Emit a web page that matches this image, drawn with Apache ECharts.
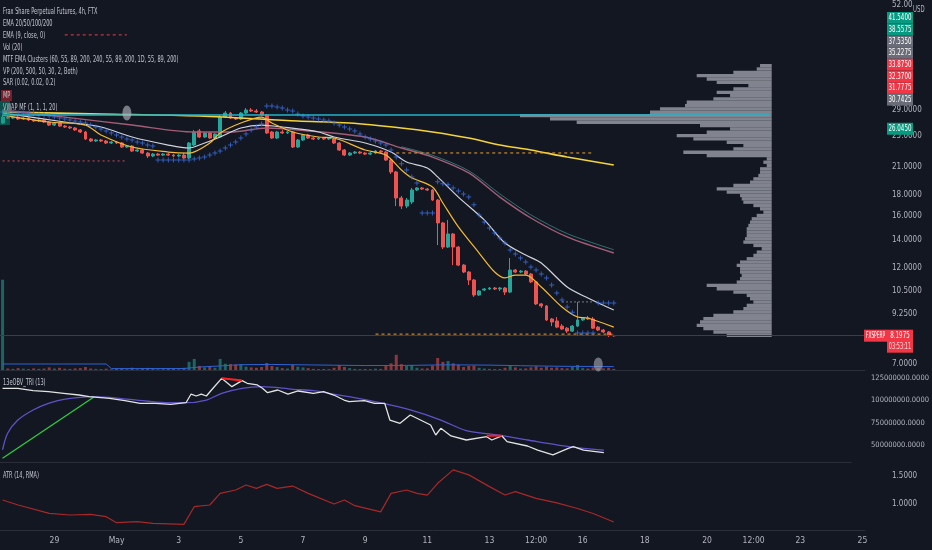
<!DOCTYPE html>
<html><head><meta charset="utf-8">
<script src="https://cdn.jsdelivr.net/npm/echarts@6/dist/echarts.min.js"></script>
<style>html,body{margin:0;padding:0;background:#131722;}#c{width:932px;height:550px;}</style>
</head><body><div id="c"></div><script>
// ---------- DATA ----------
const candles = [ // [open, close, low, high]
[26.89,27.80,26.74,28.13],[27.80,27.65,27.50,27.96],[27.65,27.80,27.50,27.96],[27.80,27.50,27.35,27.96],[27.50,27.65,27.35,27.80],
[27.65,27.35,27.20,27.80],[27.35,27.20,27.05,27.50],[27.20,27.35,27.05,27.50],[27.35,27.05,26.89,27.50],[27.05,26.59,26.44,27.20],
[26.59,26.89,26.44,27.05],[26.89,26.44,26.30,27.05],[26.44,26.30,26.16,26.59],[26.30,26.16,26.01,26.44],[26.16,25.87,25.73,26.30],
[25.87,25.58,25.44,26.01],[25.58,24.60,24.46,25.73],[24.60,24.32,24.19,24.73],[24.32,24.46,24.19,24.60],[24.46,24.32,24.19,24.60],
[24.32,24.05,23.92,24.46],[24.05,24.19,23.92,24.32],[24.19,24.05,23.92,24.32],[24.05,23.52,23.39,24.19],[23.52,23.65,23.39,23.78],
[23.65,23.00,22.87,23.78],[23.00,23.13,22.87,23.26],[23.13,22.74,22.61,23.26],[22.74,22.37,22.12,22.87],[22.37,22.61,22.24,22.74],
[22.61,22.48,22.37,22.74],[22.48,22.61,22.37,22.74],[22.61,22.48,22.37,22.74],[22.48,22.37,22.24,22.61],[22.37,22.48,22.24,22.61],
[22.48,22.12,21.99,22.74],[22.12,24.05,21.99,24.19],[23.78,25.58,23.65,25.87],[25.73,24.87,24.73,26.01],[24.87,25.44,24.73,25.58],
[25.44,24.73,24.60,25.58],[24.73,25.30,24.60,25.44],[24.87,27.80,24.73,28.13],[27.80,28.44,27.65,28.76],[28.44,27.65,27.50,28.60],
[27.65,27.50,27.35,27.80],[27.50,28.44,27.35,28.60],[28.44,28.92,28.28,29.24],[28.92,28.76,28.60,29.24],[28.76,28.60,28.44,29.08],
[28.60,28.12,27.96,28.76],[28.12,25.44,25.30,28.28],[25.58,24.73,24.60,25.73],[24.73,25.58,24.60,25.73],[25.58,25.44,25.30,25.87],
[25.44,25.58,25.30,25.73],[25.58,23.52,23.39,25.73],[23.52,24.46,23.39,24.60],[24.46,25.16,24.32,25.30],[25.16,24.73,24.60,25.30],
[24.73,24.60,24.46,24.87],[24.60,24.73,24.46,24.87],[24.73,24.60,24.46,24.87],[24.60,24.73,24.46,24.87],[24.60,24.05,23.92,24.73],
[24.05,23.13,23.00,24.19],[23.13,22.49,22.36,23.26],[22.49,22.74,22.36,22.87],[22.74,22.87,22.61,23.00],[22.87,22.74,22.61,23.00],
[22.74,22.61,22.49,22.87],[22.61,22.74,22.49,22.87],[22.74,23.00,22.61,23.13],[23.00,22.87,22.74,23.13],[22.87,21.87,21.75,23.00],
[21.87,20.46,20.23,21.99],[20.46,17.69,16.91,20.58],[17.69,16.91,16.63,17.89],[16.91,17.49,16.72,17.69],[17.30,18.50,17.10,18.71],
[18.50,18.71,18.40,18.81],[18.71,18.60,18.50,18.81],[18.60,18.50,18.40,18.71],[18.50,17.49,17.40,18.60],[17.49,15.39,13.60,17.59],
[15.39,13.45,13.30,15.48],[13.45,14.47,13.38,15.65],[14.47,13.45,12.16,14.55],[13.45,12.16,12.09,13.52],[12.16,11.70,11.63,12.23],
[11.70,11.19,10.88,11.76],[11.19,10.29,10.18,11.25],[10.29,10.52,10.24,10.58],[10.58,10.64,10.52,10.70],[10.64,10.70,10.58,10.76],
[10.70,10.64,10.58,10.76],[10.64,10.70,10.52,10.76],[10.70,10.46,10.29,10.76],[10.46,11.83,10.40,12.65],[11.83,11.70,11.63,11.90],
[11.70,11.76,11.63,11.83],[11.76,11.57,11.50,11.83],[11.57,11.07,11.00,11.63],[11.07,9.79,9.73,11.13],[9.79,9.68,9.57,9.84],
[9.68,8.95,8.90,9.73],[9.00,8.85,8.65,9.05],[8.90,8.60,8.55,9.10],[8.65,8.51,8.46,8.75],[8.55,8.41,8.32,8.60],
[8.41,8.65,8.37,8.70],[8.65,8.95,8.60,9.90],[8.95,9.05,8.90,9.10],[9.05,9.00,8.95,9.15],[9.00,8.55,8.51,9.10],
[8.60,8.46,8.41,8.65],[8.46,8.37,8.32,8.51],[8.37,8.20,8.14,8.41],[8.20,8.1975,8.15,8.24]
];
const volumes = [1220,
20,15,25,18,12,22,16,20,
35,20,30,18,15,22,25,40,20,15,
12,18,10,14,25,12,30,10,20,28,
15,10,12,14,16,10,30,110,150,55,
35,55,30,150,85,80,75,80,45,35,
30,40,95,55,40,25,20,68,45,35,
25,15,12,14,12,30,68,40,25,15,
12,14,12,18,15,60,90,205,80,55,
68,30,20,22,60,162,110,122,90,70,
40,55,60,30,20,15,12,14,30,68,
35,20,22,35,50,30,45,30,35,25,
22,40,68,25,20,35,25,22,30,15];
const volMA = [[0,81],[20,81],[21,19],[35,20],[38,40],[42,55],[46,72],[52,75],[60,68],[70,60],[78,62],[86,70],[94,66],[100,58],[108,50],[118,46]];
const sar = [28.60,28.60,28.44,28.44,28.44,28.28,28.28,28.12,28.12,27.96,
27.80,27.65,27.50,27.35,27.20,27.05,26.89,26.59,26.30,26.01,
25.73,25.44,25.16,24.87,24.60,24.46,24.19,24.05,23.78,23.65,
21.87,21.87,21.87,21.87,21.87,21.87,21.87,21.99,22.12,22.24,
22.49,22.74,23.00,23.39,23.78,24.19,24.73,25.30,25.87,26.30,
26.74,29.58,29.58,29.41,29.25,28.92,28.76,28.28,27.96,27.80,
27.65,27.50,27.35,27.20,26.89,26.59,26.30,26.01,25.73,25.30,
24.87,24.60,24.32,24.05,23.78,23.13,22.24,21.41,20.69,19.88,
19.25,16.26,16.26,16.26,19.36,19.15,19.05,18.71,18.40,18.09,
17.78,17.03,16.08,15.48,14.96,14.55,14.15,13.76,13.23,12.94,
12.65,12.37,12.03,11.83,11.57,11.32,10.88,10.40,10.01,9.62,
9.35,8.32,8.32,8.32,8.32,9.84,9.84,9.84,9.84];
const ema200 = [[0,28.60],[19,28.28],[38,27.96],[57,27.20],[67,26.89],[77,26.16],[83,25.58],[90,24.73],[96,23.78],[102,23.13],[109,22.24],[118,21.28]];
const ema100 = [[0,28.92],[12,27.80],[25,26.59],[37,25.58],[44,25.58],[51,26.16],[57,25.87],[70,24.87],[77,23.39],[83,22.24],[90,20.35],[96,17.78],[102,15.82],[109,14.23],[118,13.01]];
const mtfCluster = [[77,23.55],[83,22.45],[90,20.60],[96,18.10],[102,16.10],[109,14.50],[118,13.25]];
const ema50 = [[0,28.44],[12,27.05],[19,26.30],[25,24.87],[32,23.78],[36,23.39],[38,23.78],[42,24.87],[46,26.16],[50,26.59],[54,26.30],[61,25.58],[64,24.87],[70,24.05],[75,22.87],[78,21.63],[82,20.92],[84,19.90],[88,17.78],[93,15.65],[97,13.76],[101,12.86],[104,12.30],[109,10.76],[113,10.12],[118,9.46]];
const ema20 = [[0,28.12],[9,27.05],[16,26.59],[19,25.16],[25,23.52],[32,22.87],[36,22.74],[40,24.05],[42,25.44],[46,26.89],[50,27.80],[52,26.89],[56,25.58],[61,24.87],[64,24.73],[70,23.13],[74,22.49],[77,20.69],[79,19.80],[83,18.81],[85,17.20],[88,15.05],[92,13.01],[95,11.70],[97,11.32],[99,11.50],[101,11.50],[104,10.76],[108,9.62],[111,9.10],[113,9.05],[118,8.60]];
const pocLine = [[0,28.12],[148,28.12]];
const redDash1 = [[12,44.0],[24,44.0]];
const redDash2 = [[0,21.76],[24,21.76]];
const orangeDash1 = [[76,22.75],[114,22.75]];
const orangeDash2 = [[72,8.27],[118,8.27]];
const greyDash = [[108,9.90],[114,9.90]];
const markerOval = [[24,28.44]];
const volOval = [[115,75]];
const lastPrice = 8.1975;
const vpRows = [35,45,115,225,195,165,70,115,165,125,175,255,260,335,365,755,665,585,215,125,195,285,235,135,85,115,265,195,15,25,15,35,35,40,55,65,115,165,135,95,90,85,55,35,25,45,60,65,70,75,75,75,80,85,55,30,45,55,75,95,105,95,95,90,95,105,195,165,115,75,65,55,75,85,115,175,205,215,225,205,175,135];
const obv = [[0,113.5],[3,113.5],[6,110.9],[9,109.7],[12,107.9],[15,106.0],[17,104.1],[21,102.3],[24,99.7],[27,96.7],[30,96.7],[33,95.6],[36,97.4],[37,107.1],[38,104.9],[39,107.1],[40,104.9],[41,111.6],[43,124.6],[45,115.3],[47,122.0],[48,119.1],[50,117.2],[51,113.5],[52,108.6],[54,111.6],[56,107.1],[58,110.5],[61,107.9],[63,109.7],[65,106.0],[67,100.4],[68,98.6],[71,99.7],[73,96.7],[75,96.7],[76,78.1],[78,74.4],[80,83.7],[82,78.1],[84,72.5],[85,61.4],[86,68.8],[88,60.3],[91,55.8],[95,59.5],[96,55.8],[98,60.3],[99,54.0],[103,49.1],[105,44.6],[108,39.1],[111,46.5],[112,48.3],[114,44.6],[118,41.6]];
const obvSignal = [[0,44.9],[1,63.3],[3,78.1],[6,89.3],[9,96.7],[12,101.2],[18,104.1],[25,101.2],[32,97.4],[36,97.4],[40,100.4],[43,107.9],[47,113.5],[51,115.3],[57,112.4],[61,110.9],[64,107.9],[68,104.1],[74,97.4],[80,89.3],[86,78.1],[91,66.2],[97,61.4],[103,55.8],[109,50.2],[114,46.5],[118,44.6]];
const obvTrend = [[0,35.4],[18,104.1]];
const obvRed1 = [[43,124.8],[47,122.2]];
const obvRed2 = [[95,60.6],[98,60.6]];
const atr = [[0,1.071],[3,0.982],[9,0.833],[13,0.804],[17,0.815],[20,0.774],[22,0.666],[26,0.684],[29,0.655],[35,0.637],[37,0.952],[40,0.982],[42,1.19],[45,1.25],[47,1.34],[49,1.28],[51,1.35],[53,1.28],[56,1.32],[59,1.19],[64,1.0],[66,1.071],[68,0.97],[73,0.86],[75,1.19],[78,1.25],[80,1.19],[82,1.16],[84,1.37],[87,1.61],[90,1.52],[94,1.31],[97,1.16],[99,1.22],[103,1.10],[107,1.02],[111,0.92],[114,0.83],[118,0.68]];
const priceTicks = [7, 9.25, 10.5, 12, 14, 16, 18, 21, 25, 29, 52];
const obvTicks = [50, 75, 100, 125];
const atrTicks = [1.0, 1.5];
const xTicks = [[10,'29'],[22,'May'],[34,'3'],[46,'5'],[58,'7'],[70,'9'],[82,'11'],[94,'13'],[103,'12:00'],[112,'16'],[124,'18'],[136,'20'],[145,'12:00'],[154,'23'],[166,'25']];
const legendLines = ['Frax Share Perpetual Futures, 4h, FTX','EMA 20/50/100/200','EMA (9, close, 0)','Vol (20)','MTF EMA Clusters (60, 55, 89, 200, 240, 55, 89, 200, 1D, 55, 89, 200)','VP (200, 500, 50, 30, 2, Both)','SAR (0.02, 0.02, 0.2)','MP','VWAP MF (1, 1, 1, 20)'];
const sideBoxes = [['41.5400','#089981'],['38.5575','#089981'],['37.5350','#6a6d78'],['35.2275','#6a6d78'],['33.8750','#f23645'],['32.3700','#f23645'],['31.7775','#f23645'],['30.7425','#6a6d78']];
const pocLabel = '26.0450';
const symbolName = 'FXSPERP';
const countdown = '03:53:11';

// ---------- CHART ----------
const FONT = "'Liberation Sans Narrow','DejaVu Sans Condensed','Liberation Sans',Arial,sans-serif";
const TXT = '#b2b5be';
const N_SLOTS = 167;
const slots = []; for (let i = 0; i < N_SLOTS; i++) slots.push(String(i));
const tickMap = new Map(xTicks);
const PMIN = 6.768, PMAX = 53.47;
const chart = echarts.init(document.getElementById('c'));
const plus = 'path://M2,0H3V2H5V3H3V5H2V3H0V2H2Z';
const catAxis = (g, extra) => Object.assign({type:'category', gridIndex:g, data:slots, boundaryGap:true,
  axisLine:{show:true, lineStyle:{color:'#2a2e39'}}, axisTick:{show:false}, axisLabel:{show:false}, splitLine:{show:false}}, extra||{});
const lineS = (data, color, extra) => Object.assign({type:'line', xAxisIndex:0, yAxisIndex:0, data, symbol:'none', silent:true,
  lineStyle:{color, width:1.2}, z:4}, extra||{});

const option = {
  backgroundColor:'#131722', animation:false,
  textStyle:{fontFamily:FONT},
  grid:[
    {left:0, top:0, width:865, height:370},
    {left:0, top:371, width:865, height:91},
    {left:0, top:463, width:865, height:67},
    {left:500, top:64, width:271.7, height:273}
  ],
  xAxis:[
    catAxis(0), catAxis(1),
    catAxis(2, {axisLabel:{show:true, interval:(i)=>tickMap.has(i), formatter:(v)=>tickMap.get(Number(v))||'', color:TXT, fontSize:8.5, margin:6, fontFamily:FONT}}),
    {type:'value', gridIndex:3, inverse:true, min:0, max:815, show:false}
  ],
  yAxis:[
    {type:'log', gridIndex:0, logBase:10, min:PMIN, max:PMAX, show:false},
    {type:'value', gridIndex:0, position:'right', min:Math.log(PMIN), max:Math.log(PMAX),
      axisLine:{show:false}, axisTick:{show:false}, splitLine:{show:false},
      axisLabel:{customValues:priceTicks.map(Math.log), color:TXT, fontSize:8, margin:27, fontFamily:FONT,
        formatter:(v)=>{const p=Math.exp(v); return p>=50? p.toFixed(2) : p.toFixed(4);}}},
    {type:'value', gridIndex:0, min:0, max:5000, show:false},
    {type:'value', gridIndex:1, position:'right', min:31.25, max:132.8,
      axisLine:{show:false}, axisTick:{show:false}, splitLine:{show:false},
      axisLabel:{customValues:obvTicks, color:TXT, fontSize:7.5, margin:20, fontFamily:FONT, formatter:(v)=>(v*1e6).toFixed(4)}},
    {type:'value', gridIndex:2, position:'right', min:0.536, max:1.732,
      axisLine:{show:false}, axisTick:{show:false}, splitLine:{show:false},
      axisLabel:{customValues:atrTicks, color:TXT, fontSize:8, margin:27, fontFamily:FONT, formatter:(v)=>v.toFixed(4)}},
    {type:'category', gridIndex:3, data:vpRows.map((_,i)=>String(i)), inverse:true, show:false}
  ],
  series:[
    {type:'bar', xAxisIndex:3, yAxisIndex:5, data:vpRows, barCategoryGap:'0%', silent:true,
      itemStyle:{color:'rgba(149,152,161,0.85)'}, z:1},
    {type:'bar', xAxisIndex:0, yAxisIndex:2, barWidth:3, silent:true, z:1,
      data:volumes.map((v,i)=>({value:v, itemStyle:{color: candles[i][1]>=candles[i][0] ? 'rgba(38,166,154,0.55)' : 'rgba(239,83,80,0.55)'}}))},
    {type:'line', xAxisIndex:0, yAxisIndex:2, data:volMA, symbol:'none', silent:true, lineStyle:{color:'#2f62d4', width:1}, z:2},
    {type:'scatter', xAxisIndex:0, yAxisIndex:2, data:volOval, symbol:'circle', symbolSize:[9,14], silent:true, itemStyle:{color:'rgba(160,163,172,0.8)'}, z:2},
    {type:'candlestick', xAxisIndex:0, yAxisIndex:0, data:candles, barWidth:3.4, z:3,
      itemStyle:{color:'#26a69a', color0:'#ef5350', borderColor:'#26a69a', borderColor0:'#ef5350', borderWidth:1},
      markLine:{symbol:'none', silent:true, label:{show:false}, lineStyle:{color:'#3a3e4a', type:'solid', width:1}, data:[{yAxis:lastPrice}]}},
    lineS(ema200, '#f5d33a', {smooth:0.3, lineStyle:{color:'#f5d33a', width:1.6}}),
    lineS(ema100, '#a45d76', {smooth:0.3, lineStyle:{color:'#a45d76', width:1.4}}),
    lineS(mtfCluster, '#3e8c8c', {smooth:0.3, lineStyle:{color:'rgba(64,150,150,0.7)', width:1}}),
    lineS(ema50, '#d1d4dc', {smooth:0.3, lineStyle:{color:'#d1d4dc', width:1.2}}),
    lineS(ema20, '#f5b932', {smooth:0.3, lineStyle:{color:'#f5b932', width:1.2}}),
    lineS(pocLine, '#22b5c8', {lineStyle:{color:'#22b5c8', width:1.6}, z:6}),
    lineS(redDash1, '#e0404f', {lineStyle:{color:'#e0404f', width:1, type:[3,3]}}),
    lineS(redDash2, '#d04a5a', {lineStyle:{color:'#d04a5a', width:1, type:[2,3]}}),
    lineS(orangeDash1, '#f0a030', {lineStyle:{color:'#f0a030', width:1, type:[3,3]}}),
    lineS(orangeDash2, '#f0a030', {lineStyle:{color:'#f0a030', width:1, type:[3,3]}}),
    lineS(greyDash, '#787b86', {lineStyle:{color:'#787b86', width:1, type:[2,2]}}),
    {type:'scatter', xAxisIndex:0, yAxisIndex:0, data:sar.map((v,i)=>[i,v]), symbol:plus, symbolSize:5, silent:true,
      itemStyle:{color:'#3b6fe3'}, z:5},
    {type:'scatter', xAxisIndex:0, yAxisIndex:0, data:markerOval, symbol:'circle', symbolSize:[9,15], silent:true,
      itemStyle:{color:'rgba(178,181,190,0.8)'}, z:7},
    {type:'line', xAxisIndex:1, yAxisIndex:3, data:obvSignal, symbol:'none', smooth:0.3, silent:true, lineStyle:{color:'#5e52c9', width:1.3}, z:3},
    {type:'line', xAxisIndex:1, yAxisIndex:3, data:obvTrend, symbol:'none', silent:true, lineStyle:{color:'#2ecc40', width:1.3}, z:3},
    {type:'line', xAxisIndex:1, yAxisIndex:3, data:obv, symbol:'none', silent:true, lineStyle:{color:'#e3e3e3', width:1.3}, z:4},
    {type:'line', xAxisIndex:1, yAxisIndex:3, data:obvRed1, symbol:'none', silent:true, lineStyle:{color:'#ff2020', width:2}, z:5},
    {type:'line', xAxisIndex:1, yAxisIndex:3, data:obvRed2, symbol:'none', silent:true, lineStyle:{color:'#ff2020', width:2}, z:5},
    {type:'line', xAxisIndex:2, yAxisIndex:4, data:atr, symbol:'none', silent:true, lineStyle:{color:'#a82828', width:1.2}, z:3}
  ]
};
chart.setOption(option);

// ---------- LABELS / OVERLAYS ----------
const g = [];
const txt = (text, x, y, style, sx) => ({type:'text', x, y, z:100, silent:true, scaleX: sx || 0.62, scaleY: 1,
  style:Object.assign({text, fill:'#c3c6ce', fontSize:9, fontFamily:FONT, verticalAlign:'middle', align:'left'}, style||{})});
const rect = (x, y, w, h, fill) => ({type:'rect', z:99, silent:true, shape:{x, y, width:w, height:h}, style:{fill}});
// left indicator badges
g.push(rect(1, 90, 11, 11, 'rgba(178,40,51,0.6)'));
g.push(rect(0, 101, 10, 24, 'rgba(8,153,129,0.45)'));
const legendY = [12, 24, 35.5, 47.5, 59.5, 71.5, 83, 95.5, 107.5];
legendLines.forEach((t,k)=>g.push(txt(t, 3, legendY[k])));
g.push(txt('13eOBV_TRI (13)', 3, 383));
g.push(txt('ATR (14, RMA)', 3, 476));
// right stacked value boxes
sideBoxes.forEach((b,k)=>{
  const y = 12 + k*11.7;
  g.push(rect(887, y, 26, 11.7, b[1]));
  g.push(txt(b[0], 900, y+6, {fill:'#ffffff', fontSize:8.5, align:'center'}, 0.72));
});
g.push(txt('USD', 913, 10, {fill:TXT, fontSize:8}, 0.75));
const yPoc = chart.convertToPixel({xAxisIndex:0, yAxisIndex:0}, [0, 26.045])[1];
g.push(rect(887, yPoc-6, 26, 12, '#089981'));
g.push(txt(pocLabel, 900, yPoc, {fill:'#ffffff', fontSize:8.5, align:'center'}, 0.72));
const yLast = chart.convertToPixel({xAxisIndex:0, yAxisIndex:0}, [0, lastPrice])[1];
g.push(rect(864, yLast-6, 23, 12, '#f23645'));
g.push(txt(symbolName, 875.5, yLast, {fill:'#ffffff', fontSize:8, align:'center'}, 0.6));
g.push(rect(887, yLast-6, 26, 23, '#f23645'));
g.push(txt(lastPrice.toFixed(4), 900, yLast, {fill:'#ffffff', fontSize:8.5, align:'center'}, 0.72));
g.push(txt(countdown, 900, yLast+11, {fill:'#ffe0e3', fontSize:8.5, align:'center'}, 0.65));
chart.setOption({graphic:g});
</script></body></html>
